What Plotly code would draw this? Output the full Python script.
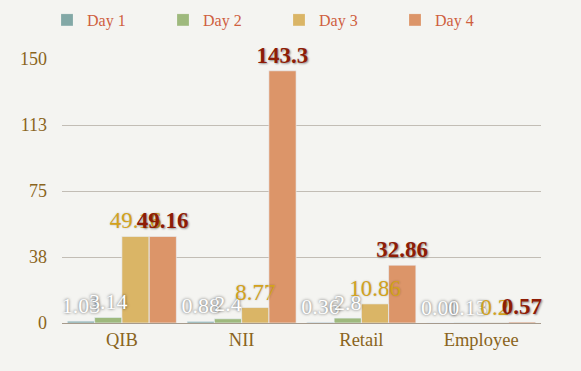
import plotly.graph_objects as go

categories = ["QIB", "NII", "Retail", "Employee"]
series_names = ["Day 1", "Day 2", "Day 3", "Day 4"]
day1 = [1.03, 0.88, 0.36, 0.01]
day2 = [3.14, 2.4, 2.8, 0.13]
day3 = [49.16, 8.77, 10.86, 0.2]
day4 = [49.16, 143.3, 32.86, 0.57]
y_tickvals = [0, 37.5, 75, 112.5, 150]
y_ticktext = ["0", "38", "75", "113", "150"]

colors = ["#82A8A6", "#9EB97D", "#DAB566", "#DC9569"]
text_styles = [
    dict(color="#FFFFFF", size=22, shadow="0px 0px 3px rgba(0,0,0,0.7)"),
    dict(color="#FFFFFF", size=22, shadow="0px 0px 3px rgba(0,0,0,0.7)"),
    dict(color="#D4A21C", size=23, shadow="0px 0px 2px rgba(0,0,0,0.25)"),
    dict(color="#8E1C06", size=23, weight="bold", shadow="1px 1px 2px rgba(0,0,0,0.4)"),
]

FONT = "Liberation Serif"
fig = go.Figure()
series = [day1, day2, day3, day4]
# visible bars
for i, (name, vals, col) in enumerate(zip(series_names, series, colors)):
    fig.add_trace(go.Bar(
        x=categories, y=vals, name=name, offsetgroup=str(i),
        marker=dict(color=col, line=dict(color="rgba(255,255,255,0.35)", width=0.5)),
        cliponaxis=False,
    ))
# transparent bars carrying the labels, drawn on top of all bars
for i, (name, vals, ts) in enumerate(zip(series_names, series, text_styles)):
    fig.add_trace(go.Bar(
        x=categories, y=vals, name=name, offsetgroup=str(i), showlegend=False,
        marker=dict(color="rgba(0,0,0,0)"), hoverinfo="skip",
        text=[str(v) for v in vals], textposition="outside",
        textfont=dict(family=FONT, **ts),
        cliponaxis=False, constraintext="none",
    ))

fig.update_layout(
    width=581, height=371,
    margin=dict(l=62, r=40, t=59, b=48),
    paper_bgcolor="#F4F4F1", plot_bgcolor="rgba(0,0,0,0)",
    barmode="group", bargap=0.09, bargroupgap=0,
    font=dict(family=FONT, color="#8A6420"),
    showlegend=True,
    legend=dict(orientation="h", xref="container", yref="container",
                x=47/581, y=1 - 3/371, xanchor="left", yanchor="top",
                font=dict(family=FONT, size=16, color="#CF5F3F"),
                entrywidth=71, bgcolor="rgba(0,0,0,0)", traceorder="normal"),
    xaxis=dict(tickfont=dict(family=FONT, size=18.5, color="#8A6420"),
               showline=True, linecolor="#A69A8C", linewidth=1.2,
               ticks="", showgrid=False),
    yaxis=dict(range=[0, 150], tickvals=y_tickvals, ticktext=y_ticktext,
               tickfont=dict(family=FONT, size=18, color="#8A6420"),
               showgrid=True, gridcolor="#C2BDB5", gridwidth=1,
               zeroline=True, zerolinecolor="#A69A8C", zerolinewidth=1.2,
               ticks="", ticklabelstandoff=14, showline=False),
)

fig.write_html("out.html", config={"displayModeBar": False},
               post_script="document.body.style.margin='0';")
